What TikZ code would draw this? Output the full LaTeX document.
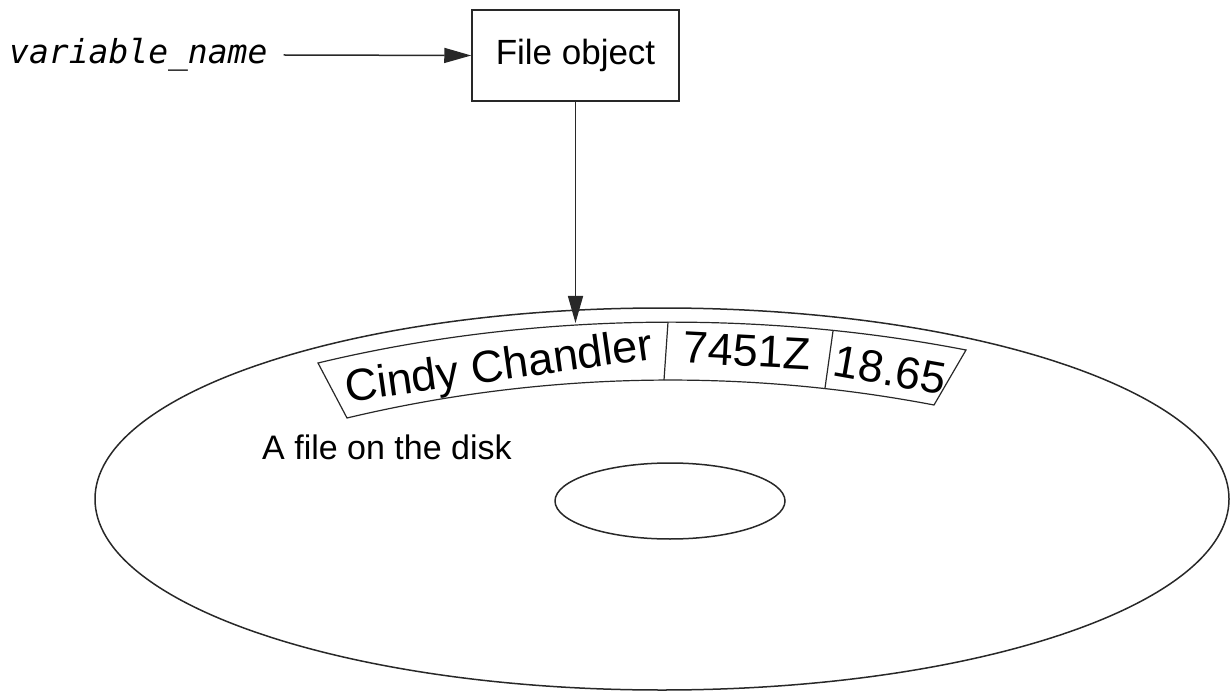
\documentclass[tikz,border=0pt]{standalone}
\usepackage{fontspec}
\setmainfont{Liberation Sans}
\newfontfamily\varfont{DejaVu Sans Mono}
\usetikzlibrary{arrows.meta}
\definecolor{ink}{RGB}{40,40,40}
\tikzset{
  ln/.style={draw=ink, line width=1.5pt},
  arr/.style={ln, -{Triangle[length=27pt,width=15pt]}},
  lbl/.style={text=black, inner sep=0pt, font=\fontsize{34}{38}\selectfont},
  rec/.style={text=black, inner sep=0pt, font=\fontsize{45}{50}\selectfont},
  boxst/.style={ln, fill=white, minimum width=207pt, minimum height=91pt, inner sep=0pt}
}
\begin{document}
\begin{tikzpicture}[x=1pt, y=-1pt]
\useasboundingbox (0,0) rectangle (1230,692);
% disk
\draw[ln] (662,499) ellipse [x radius=567pt, y radius=191pt];
\draw[ln] (670,501) ellipse [x radius=115pt, y radius=38pt];
% record on the disk
\coordinate (tl) at (318,363);
\coordinate (tr) at (966,350);
\coordinate (br) at (934,405);
\coordinate (bl) at (347,418);
\coordinate (d1t) at (668,322);
\coordinate (d1b) at (664,380);
\coordinate (d2t) at (833,331);
\coordinate (d2b) at (825,388);
\draw[ln, line width=1.2pt] (tl) .. controls (530,312) and (760,310) .. (tr) -- (br)
   .. controls (740,368) and (540,372) .. (bl) -- cycle;
\draw[ln, line width=1.2pt] (d1t) -- (d1b);
\draw[ln, line width=1.2pt] (d2t) -- (d2b);
\node[rec, rotate=8] (name) at (499,369) {Cindy Chandler};
\node[rec, rotate=-3] (id) at (747,351) {7451Z};
\node[rec, rotate=-10] (amt) at (890,370) {18.65};
\node[lbl, anchor=west] (disk) at (262,447) {A file on the disk};
% file object and variable
\node[boxst] (fileobj) at (575.5,55.5) {\fontsize{35}{40}\selectfont File object};
\node[lbl, anchor=west] (var) at (9,55) {\fontsize{33}{38}\selectfont\varfont\itshape variable\_name};
\coordinate (rectop) at (575.5,323);
\draw[arr] ([xshift=16pt]var.east) -- (fileobj.west);
\draw[arr] (fileobj.south) -- (rectop);
\end{tikzpicture}
\end{document}
